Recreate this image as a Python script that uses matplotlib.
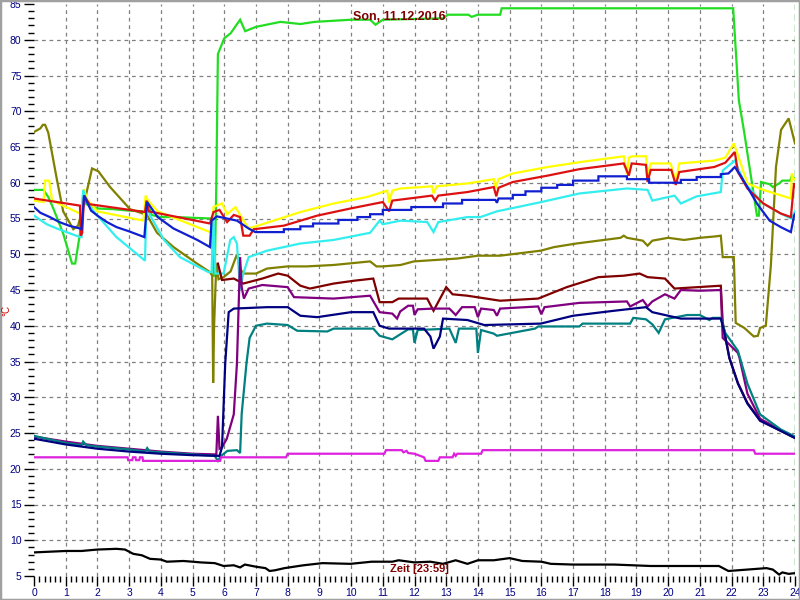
import numpy as np
import matplotlib
matplotlib.use("Agg")
import matplotlib.pyplot as plt
from matplotlib.patches import Rectangle

title_text = "Son, 11.12.2016"
xlabel_text = "Zeit [23:59]"
ylabel_text = "°C"
x_ticks = list(range(0, 25))
y_ticks = list(range(5, 90, 5))

# [hour, °C]
green = np.array([[0, 59], [0.3, 59], [0.45, 58], [0.6, 56.5], [0.92, 52.9], [1.2, 48.7], [1.3, 48.7], [1.45, 52.9],
                  [1.55, 58.5], [1.65, 57], [2.0, 56.4], [2.5, 56.3], [3.0, 56.1], [3.5, 56], [3.58, 57.4], [3.7, 55.5],
                  [4.0, 55.2], [4.5, 55.2], [5.0, 55.1], [5.6, 55], [5.66, 47], [5.7, 47], [5.75, 60], [5.8, 78],
                  [6.0, 80.2], [6.2, 80.9], [6.5, 82.8], [6.66, 81.2], [7.0, 81.8], [7.77, 82.5], [8.4, 82.2],
                  [8.85, 82.5], [10.0, 82.8], [10.6, 82.8], [10.77, 82.1], [11.0, 82.8], [12.9, 83.0], [13.05, 83.5],
                  [13.7, 83.5], [13.8, 83.2], [14.0, 83.5], [14.7, 83.5], [14.75, 84.4], [22.05, 84.4], [22.23, 71.5],
                  [22.4, 67], [22.8, 55.4], [22.86, 55.4], [22.93, 60.1], [23.2, 59.8], [23.3, 59.4], [23.5, 59.9],
                  [23.6, 60.3], [23.85, 60.3], [23.9, 61], [24, 60.5]])

olive = np.array([[0, 67.1], [0.2, 67.6], [0.28, 68.1], [0.35, 68.1], [0.45, 67.0], [0.72, 60.5], [0.92, 56],
                  [1.24, 53.5], [1.39, 54], [1.6, 57.5], [1.83, 62], [2.03, 61.6], [2.4, 59.4], [3.03, 56.3],
                  [3.56, 55.5], [3.88, 53], [4.4, 51], [5.14, 48.7], [5.55, 47.5], [5.62, 47], [5.65, 32],
                  [5.68, 40], [5.75, 48.7], [5.82, 46.5], [5.98, 46.8], [6.2, 47.6], [6.4, 50], [6.5, 48],
                  [6.6, 47.3], [7.0, 47.3], [7.35, 48], [8.0, 48.3], [8.6, 48.3], [9.45, 48.5], [10.6, 49],
                  [10.8, 48.3], [11.0, 48.3], [11.56, 48.5], [11.98, 49], [13.35, 49.4], [14.0, 49.8], [14.7, 49.8],
                  [15.98, 50.5], [16.4, 51], [17.1, 51.5], [17.8, 51.9], [18.5, 52.3], [18.6, 52.6], [18.7, 52.3],
                  [19.2, 51.9], [19.35, 51.2], [19.5, 51.9], [20.0, 52.3], [20.5, 52.0], [21.0, 52.3], [21.5, 52.5],
                  [21.66, 52.6], [21.72, 49.6], [22.07, 49.6], [22.13, 40.4], [22.4, 39.7], [22.7, 38.5],
                  [22.83, 38.6], [22.9, 39.7], [23.08, 40], [23.24, 48.5], [23.4, 62.2], [23.56, 67.4],
                  [23.8, 69], [24.0, 65.5]])

yellow = np.array([[0, 57.5], [0.3, 57.3], [0.35, 60.3], [0.48, 60.3], [0.57, 57.5], [1.45, 55.7], [1.5, 55.7],
                   [1.57, 59.1], [1.7, 57.5], [2.0, 56], [3.45, 54.7], [3.52, 58.2], [3.6, 57.5], [3.9, 56],
                   [5.55, 53.1], [5.62, 53.5], [5.66, 56.6], [5.93, 57.1], [6.09, 55.6], [6.35, 56.6], [6.61, 54.7],
                   [6.77, 53.6], [7.35, 54.4], [8.4, 55.9], [9.45, 57.1], [10.5, 58], [11.14, 58.9], [11.2, 57.2],
                   [11.3, 58.9], [11.56, 59.2], [12.55, 59.5], [12.6, 58.5], [12.7, 59.5], [13.67, 59.9],
                   [14.5, 60.5], [14.55, 59.2], [14.65, 60.5], [15.1, 61.3], [16.2, 62.2], [17.24, 62.9],
                   [18.6, 63.7], [18.7, 61.2], [18.76, 63.5], [18.85, 63.7], [19.3, 63.7], [19.35, 61], [19.45, 62.7],
                   [20.08, 62.7], [20.24, 60.1], [20.35, 62.7], [21.45, 63.1], [21.8, 63.5], [22.07, 65.5],
                   [22.15, 64.5], [22.5, 59.9], [23.0, 59], [23.87, 57.8], [23.9, 61.3], [23.95, 60.5], [24.0, 60.5]])

cyan = np.array([[0, 55.4], [0.4, 54.2], [0.72, 53.6], [1.45, 52.4], [1.5, 52.4], [1.55, 59], [1.7, 57], [2.0, 55.4],
                 [2.6, 52.4], [3.5, 49.1], [3.55, 57.5], [3.65, 55.5], [4.1, 52], [4.6, 49.6], [5.5, 47.5],
                 [5.6, 47.5], [5.66, 55], [5.72, 47.3], [5.98, 47.3], [6.19, 52], [6.3, 52.4], [6.4, 51.5],
                 [6.5, 45], [6.6, 47.3], [6.77, 49.6], [7.35, 50.5], [8.4, 51.5], [9.45, 52], [10.6, 53],
                 [10.9, 54.7], [11.0, 54.2], [11.56, 54.7], [12.4, 54.5], [12.6, 53.1], [12.75, 54.5],
                 [13.67, 55.2], [14.08, 55.2], [14.6, 56], [16, 57.3], [17.2, 58.5], [18.7, 59.2], [19.35, 59],
                 [19.5, 57.5], [20.2, 58.2], [20.4, 57.1], [20.9, 58.1], [21.66, 58.7], [21.72, 61.7], [22.1, 63.1],
                 [22.4, 60], [23, 57.1], [23.55, 55.7], [23.87, 55], [24, 56]])

red = np.array([[0, 57.8], [1.45, 56.8], [1.48, 52.6], [1.52, 53], [1.58, 58.2], [1.75, 57], [3.5, 55.9],
                [3.55, 57.5], [3.62, 56], [5.55, 54.3], [5.66, 55.9], [5.85, 56.2], [5.95, 55.5], [6.09, 54.5],
                [6.3, 55.5], [6.5, 55.2], [6.6, 52.6], [6.8, 52.6], [6.93, 53.5], [7.88, 54.0], [8.93, 55.4],
                [9.98, 56.4], [11.0, 57.3], [11.2, 56.0], [11.3, 57.5], [12.55, 58.2], [12.65, 57.5],
                [12.75, 58.2], [13.67, 58.7], [14.5, 59.4], [14.58, 58.1], [14.65, 59.3], [15.1, 60.1],
                [16.2, 61], [17.2, 61.9], [18.6, 62.7], [18.76, 61], [18.85, 62.7], [19.3, 62.5], [19.35, 60.1],
                [19.45, 61.8], [20.1, 61.8], [20.24, 59.7], [20.35, 61.5], [21.45, 62.2], [21.8, 62.8],
                [22.1, 64.3], [22.2, 61.5], [22.5, 59.2], [23.0, 57.1], [23.55, 55.7], [23.87, 55.2],
                [23.97, 59.9], [24, 59.5]])

blue = np.array([[0, 56.6], [0.2, 55.8], [0.5, 55.2], [0.8, 54.5], [1.1, 54], [1.45, 53.6], [1.5, 53.5],
                 [1.58, 58.2], [1.8, 56.1], [2.0, 55.4], [2.3, 54.5], [2.6, 53.8], [3.0, 53.2], [3.48, 52.4],
                 [3.57, 57.3], [3.9, 55.2], [4.4, 53.6], [5.15, 52], [5.55, 51], [5.6, 54.7], [5.77, 55.3],
                 [5.87, 55.2], [6.4, 54.7], [6.77, 53.6], [6.98, 53.1],
                 [7.88, 53.1], [7.88, 53.5], [8.4, 53.5], [8.4, 53.9], [8.8, 53.9], [8.8, 54.3], [9.6, 54.3],
                 [9.6, 54.8], [10.2, 54.8], [10.2, 55.2], [10.6, 55.2], [10.6, 55.6], [11.0, 55.6], [11.0, 56.2],
                 [11.9, 56.2], [11.9, 56.6], [12.9, 56.6], [12.9, 57.1], [13.5, 57.1], [13.5, 57.6], [14.55, 57.6],
                 [14.6, 57.2], [14.65, 57.8], [15.1, 57.8], [15.1, 58.3], [15.5, 58.3], [15.5, 58.8], [16.0, 58.8],
                 [16.0, 59.3], [16.5, 59.3], [16.5, 59.7], [17.0, 59.7], [17.0, 60.3], [17.8, 60.3], [17.8, 60.9],
                 [18.7, 60.9], [18.7, 60.5], [19.4, 60.5], [19.4, 60.0], [20.4, 60.0], [20.4, 60.4], [20.9, 60.4],
                 [20.9, 60.8], [21.66, 60.8], [21.66, 61.2], [21.9, 61.3], [22.1, 62.2], [22.3, 60.9],
                 [22.8, 57.1], [23.2, 54.7], [23.55, 53.8], [23.87, 53.1], [23.97, 55.4], [24, 55.6]])

maroon = np.array([[5.8, 48.7], [5.93, 46.4], [6.3, 46.6], [6.6, 45.9], [7.2, 46.6], [7.7, 47.3], [8.0, 47.0],
                   [8.4, 45.6], [8.7, 45.2], [9.45, 45.9], [10.1, 46.3], [10.7, 46.6], [10.9, 43.3], [11.3, 43.3],
                   [11.5, 43.8], [12.4, 43.8], [12.6, 42.1], [13.0, 45.4], [13.2, 44.4], [13.67, 44.2],
                   [14.7, 43.5], [15.9, 43.8], [16.8, 45.4], [17.8, 46.8], [18.6, 47], [19.1, 47.3], [19.35, 46.8],
                   [19.9, 46.6], [20.2, 45.2], [21.66, 45.6], [21.72, 40.5], [21.93, 35.5], [22.2, 32],
                   [22.5, 29.2], [22.9, 26.8], [23.55, 25.3], [24, 24.3]])

purple = np.array([[0, 24.5], [1, 23.8], [2, 23.2], [3, 22.8], [4, 22.4], [5, 22.1], [5.75, 22], [5.8, 27.4],
                   [5.85, 22.8], [5.93, 23], [6.08, 24.2], [6.3, 27.6], [6.4, 34.7], [6.5, 49.6], [6.55, 45.4],
                   [6.62, 43.8], [6.77, 45.2], [7.2, 45.7], [8.0, 45.4], [8.2, 44], [9.45, 43.8], [10.6, 44.2],
                   [10.9, 41.9], [11.3, 41.7], [11.45, 41.0], [11.55, 42], [11.8, 42.8], [11.95, 42.8], [12.0, 41.5],
                   [12.1, 42.3], [12.6, 42.4], [13.1, 42.4], [13.3, 41.5], [13.5, 42.6], [13.9, 42.6], [14.0, 41.2],
                   [14.1, 42.4], [14.5, 42.2], [14.6, 41.4], [14.7, 42.4], [15.9, 42.7], [16.0, 41.6], [16.1, 42.6],
                   [17.2, 43.2], [18.7, 43.4], [18.8, 42.7], [19.2, 43.6], [19.35, 42.7], [19.5, 43.4], [19.9, 44.4],
                   [20.2, 43.8], [20.4, 45], [21.0, 44.9], [21.66, 45], [21.72, 38.3], [22.2, 36.2], [22.25, 35.5],
                   [22.5, 30.5], [22.9, 27], [23.55, 25.4], [24, 24.4]])

teal = np.array([[0, 24.6], [1, 23.6], [1.5, 23.3], [1.55, 23.8], [1.65, 23.3], [2, 23.1], [3, 22.7], [3.5, 22.4],
                 [3.57, 22.9], [3.65, 22.4], [4, 22.3], [5, 22], [5.7, 21.8], [5.8, 21.1], [5.9, 21.8], [6.1, 22.5],
                 [6.4, 22.6], [6.5, 22.2], [6.55, 27.7], [6.7, 34.7], [6.8, 38.3], [7.0, 40], [7.35, 40.3],
                 [8.0, 40.1], [8.3, 39.3], [9.25, 39.2], [9.45, 39.6], [10.7, 39.6], [10.9, 38.6], [11.3, 38.1],
                 [11.8, 39.5], [11.95, 39.5], [12.0, 37.6], [12.1, 39.4], [13.1, 39.6], [13.3, 37.6], [13.4, 39.6],
                 [13.95, 39.6], [14.0, 36.2], [14.1, 39.4], [14.5, 38.9], [14.6, 38.6], [15.8, 39.6], [15.9, 39.9],
                 [17.2, 39.9], [17.3, 40.3], [18.8, 40.3], [18.9, 41.1], [19.3, 40.9], [19.5, 40.2], [19.7, 39],
                 [19.9, 40.9], [20.6, 41.5], [21.0, 41.5], [21.3, 40.8], [21.4, 41.1], [21.66, 41.1], [21.8, 39],
                 [22.2, 36.5], [22.5, 31.9], [22.9, 27.6], [23.55, 25.5], [24, 24.5]])

navy = np.array([[0, 24.2], [1, 23.4], [2, 22.8], [3, 22.4], [4, 22.1], [5, 21.9], [5.85, 21.8], [5.93, 23],
                 [6.03, 34.7], [6.14, 41.9], [6.3, 42.4], [7.35, 42.6], [8.0, 42.6], [8.4, 41.4], [8.93, 41.2],
                 [10, 41.9], [10.7, 41.9], [10.9, 40.0], [11.2, 39.6], [12.3, 39.6], [12.5, 38.5], [12.6, 36.8],
                 [12.8, 38.5], [12.9, 41], [13.67, 40.8], [14.2, 40.1], [15.98, 40.3], [17, 41.4], [18.3, 42.1],
                 [19.3, 42.6], [19.5, 41.9], [20.4, 41], [21.66, 41], [21.76, 39.3], [21.93, 35.5], [22.2, 31.9],
                 [22.5, 29.1], [22.9, 26.7], [23.55, 25.3], [24, 24.3]])

magenta = np.array([[0, 21.6], [2.95, 21.6], [2.97, 21.2], [3.1, 21.2], [3.12, 21.6], [3.2, 21.6], [3.22, 21.2],
                    [3.32, 21.2], [3.34, 21.6], [3.42, 21.6], [3.44, 21.1], [5.87, 21.1], [5.9, 21.6], [7.95, 21.6],
                    [8.0, 22.1], [11.05, 22.1], [11.1, 22.6], [11.6, 22.6], [11.65, 22.3], [11.75, 22.5],
                    [11.8, 22.2], [12.0, 22.1], [12.3, 21.6], [12.35, 21.1], [12.75, 21.1], [12.8, 21.6],
                    [13.2, 21.6], [13.25, 22.1], [13.3, 21.8], [13.35, 22.1], [14.1, 22.1], [14.15, 22.6],
                    [22.7, 22.6], [22.75, 22.1], [24, 22.1]])

black = np.array([[0, 8.3], [0.5, 8.4], [1.0, 8.5], [1.5, 8.5], [2.0, 8.7], [2.6, 8.8], [2.87, 8.7], [3.0, 8.4],
                  [3.13, 8.1], [3.4, 7.9], [3.66, 7.4], [4.0, 7.3], [4.19, 7.0], [4.71, 7.1], [5.0, 7.0],
                  [5.26, 6.9], [5.7, 6.8], [5.98, 6.4], [6.3, 6.5], [6.5, 6.2], [6.65, 6.6], [7.0, 6.3], [7.3, 6.1],
                  [7.43, 5.7], [7.6, 5.8], [7.9, 6.1], [8.5, 6.5], [9.1, 6.8], [9.98, 6.7], [10.65, 7.0],
                  [11.3, 7.0], [11.5, 7.2], [12.0, 6.9], [12.5, 7.0], [12.9, 6.7], [13.3, 7.2], [13.67, 6.7],
                  [14.0, 7.2], [14.5, 7.2], [15.0, 7.5], [15.4, 7.1], [16.0, 7.0], [16.3, 6.7], [17.0, 6.6],
                  [18.3, 6.6], [19.45, 6.4], [20.5, 6.4], [21.6, 6.4], [21.9, 5.7], [22.5, 5.9], [23.1, 6.1],
                  [23.3, 5.9], [23.5, 5.2], [23.6, 5.5], [23.8, 5.3], [24, 5.4]])

series = [
    (green, '#22dd22'),
    (olive, '#808000'),
    (yellow, '#ffff00'),
    (cyan, '#33eeee'),
    (red, '#dd1111'),
    (blue, '#1020d0'),
    (maroon, '#800000'),
    (purple, '#800080'),
    (teal, '#008080'),
    (navy, '#000080'),
    (magenta, '#dd22dd'),
    (black, '#000000'),
]

fig = plt.figure(figsize=(8, 6), dpi=100)
fig.patch.set_facecolor('white')
ax = fig.add_axes([34 / 800, 24 / 600, (795 - 34) / 800, (576 - 4) / 600])
ax.set_xlim(0, 24)
ax.set_ylim(5, 85)
for s in ax.spines.values():
    s.set_visible(False)

grid_kw = dict(color='#808080', lw=0.9, ls=(0, (3, 3)), zorder=1)
for h in x_ticks[1:-1]:
    ax.axvline(h, **grid_kw)
for v in y_ticks[1:-1]:
    ax.axhline(v, **grid_kw)
ax.axvline(24, color='#008000', lw=1.0, ls=(0, (5, 3)), zorder=1)

for data, col in series:
    ax.plot(data[:, 0], data[:, 1], color=col, lw=1.6, zorder=3, solid_joinstyle='miter')

ax.set_xticks(x_ticks)
ax.set_xticks(np.arange(0, 24.001, 1 / 6), minor=True)
ax.set_yticks(y_ticks)
ax.set_yticks(np.arange(5, 85.001, 1), minor=True)
ax.set_xticklabels([str(t) for t in x_ticks])
ax.set_yticklabels([str(t) for t in y_ticks])
ax.tick_params(axis='both', which='major', direction='out', length=7, width=1, color='black',
               labelcolor='#000080', labelsize=7.5, pad=2)
ax.tick_params(axis='both', which='minor', direction='out', length=4, width=1, color='black')
for lbl in ax.get_xticklabels() + ax.get_yticklabels():
    lbl.set_fontfamily('Liberation Sans')

fig.text(399 / 800, 1 - 17 / 600, title_text, color='#800000', fontsize=9, fontweight='bold',
         family='Liberation Sans', ha='center', va='center')
fig.text(419 / 800, 1 - 569 / 600, xlabel_text, color='#800000', fontsize=8, fontweight='bold',
         family='Liberation Sans', ha='center', va='center')
fig.text(6 / 800, 1 - 310 / 600, ylabel_text, color='#cc0000', fontsize=7, rotation=90,
         family='Liberation Sans', ha='center', va='center')

fig.patches.append(Rectangle((0, 0), 1, 1, transform=fig.transFigure, fill=False,
                             edgecolor='#a0a0a0', lw=2.5))

fig.savefig('out.png', dpi=100, facecolor='white')
